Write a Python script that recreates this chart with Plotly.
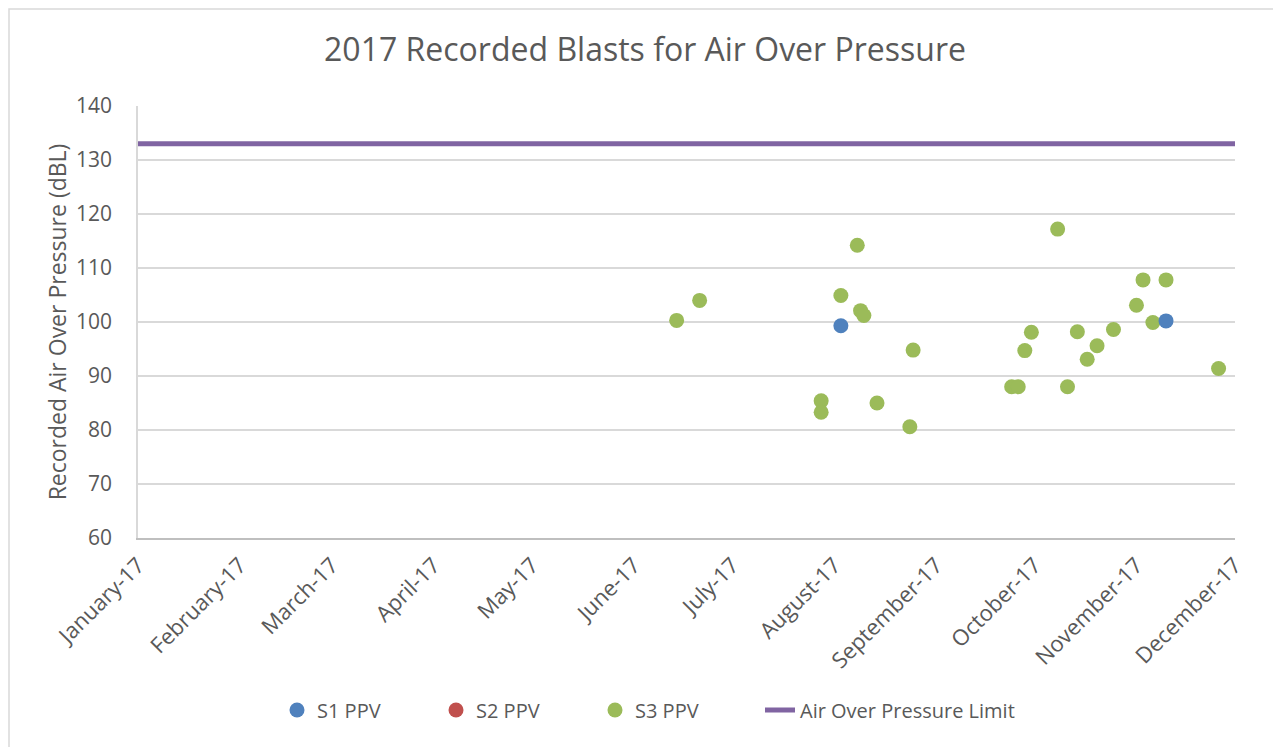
import plotly.graph_objects as go

# ---- data ----
s1_dates = ["2017-08-03", "2017-11-10"]
s1_values = [99.3, 100.2]

s2_dates = []
s2_values = []

s3_dates = [
    "2017-06-14", "2017-06-21", "2017-07-28", "2017-07-28", "2017-08-03",
    "2017-08-08", "2017-08-09", "2017-08-10", "2017-08-14", "2017-08-24",
    "2017-08-25", "2017-09-24", "2017-09-26", "2017-09-28", "2017-09-30",
    "2017-10-08", "2017-10-11", "2017-10-14", "2017-10-17", "2017-10-20",
    "2017-10-25", "2017-11-01", "2017-11-03", "2017-11-06", "2017-11-10",
    "2017-11-26",
]
s3_values = [
    100.3, 104.0, 85.4, 83.3, 104.9,
    114.2, 102.1, 101.2, 85.0, 80.6,
    94.8, 88.0, 88.0, 94.7, 98.1,
    117.2, 88.0, 98.2, 93.1, 95.6,
    98.6, 103.1, 107.8, 99.9, 107.8,
    91.4,
]

limit_dates = ["2017-01-01", "2017-12-01"]
limit_values = [133, 133]

x_range = ["2017-01-01", "2017-12-01"]
y_range = [60, 140]

BLUE = "#4F81BD"
RED = "#C0504D"
GREEN = "#9BBB59"
PURPLE = "#8064A2"
TEXT = "#595959"
FONT = "Open Sans"

# page body has an 8px margin; figure sized so it ends at the window edge
W, H = 1273, 739
PAD = 8
PLOT_L, PLOT_R, PLOT_T, PLOT_B = 138, 1235, 106, 538  # page pixels
PW, PH = PLOT_R - PLOT_L, PLOT_B - PLOT_T

fig = go.Figure()
fig.add_trace(go.Scatter(x=s3_dates, y=s3_values, mode="markers", name="S3 PPV",
                         legendrank=3,
                         marker=dict(color=GREEN, size=15, line=dict(width=0))))
fig.add_trace(go.Scatter(x=s1_dates, y=s1_values, mode="markers", name="S1 PPV",
                         legendrank=1,
                         marker=dict(color=BLUE, size=15, line=dict(width=0))))
# S2 has no recorded points; a None placeholder keeps its legend entry
fig.add_trace(go.Scatter(x=s2_dates or [None], y=s2_values or [None],
                         mode="markers", name="S2 PPV", legendrank=2,
                         marker=dict(color=RED, size=15, line=dict(width=0))))
fig.add_trace(go.Scatter(x=limit_dates, y=limit_values, mode="lines",
                         name="Air Over Pressure Limit", legend="legend2",
                         line=dict(color=PURPLE, width=5)))

LEG_Y = -(710 - PLOT_B) / PH

fig.update_layout(
    width=W, height=H, autosize=False,
    margin=dict(l=PLOT_L - PAD, r=W - (PLOT_R - PAD), t=PLOT_T - PAD,
                b=H - (PLOT_B - PAD), autoexpand=False),
    paper_bgcolor="white", plot_bgcolor="white",
    font=dict(family=FONT, color=TEXT, size=20),
    title=dict(text="2017 Recorded Blasts for Air Over Pressure",
               x=(645 - PAD) / W, xref="container", xanchor="center",
               y=1 - (50 - PAD) / H, yref="container", yanchor="middle",
               font=dict(size=32, color=TEXT, family=FONT)),
    showlegend=True,
    legend=dict(orientation="h", x=(277 - PLOT_L) / PW, xanchor="left",
                y=LEG_Y, yanchor="middle",
                font=dict(size=20, color=TEXT),
                traceorder="normal", entrywidth=114),
    legend2=dict(orientation="h", x=(760 - PLOT_L) / PW, xanchor="left",
                 y=LEG_Y, yanchor="middle",
                 font=dict(size=20, color=TEXT)),
    xaxis=dict(type="date", range=x_range, tick0="2017-01-01", dtick="M1",
               tickformat="%B-%y", tickangle=-45, showgrid=False,
               showline=True, linecolor="#BFBFBF", linewidth=1.5,
               ticks="", tickfont=dict(size=22, color=TEXT), zeroline=False,
               ticklabelstandoff=4),
    yaxis=dict(range=y_range, dtick=10, showgrid=True, gridcolor="#D9D9D9",
               gridwidth=1.5, showline=True, linecolor="#D9D9D9", linewidth=1.5,
               ticks="", tickfont=dict(size=21, color=TEXT), zeroline=False,
               ticklabelstandoff=20,
               title=dict(text="Recorded Air Over Pressure (dBL)",
                          font=dict(size=23, color=TEXT), standoff=3)),
)

# outer chart border
fig.add_shape(type="rect", xref="paper", yref="paper",
              x0=(9 - PLOT_L) / PW, x1=(1300 - PLOT_L) / PW,
              y0=(PLOT_B - 760) / PH, y1=(PLOT_B - 9) / PH,
              line=dict(color="#D9D9D9", width=1.5), fillcolor="rgba(0,0,0,0)",
              layer="below")

fig.write_html("out.html")
